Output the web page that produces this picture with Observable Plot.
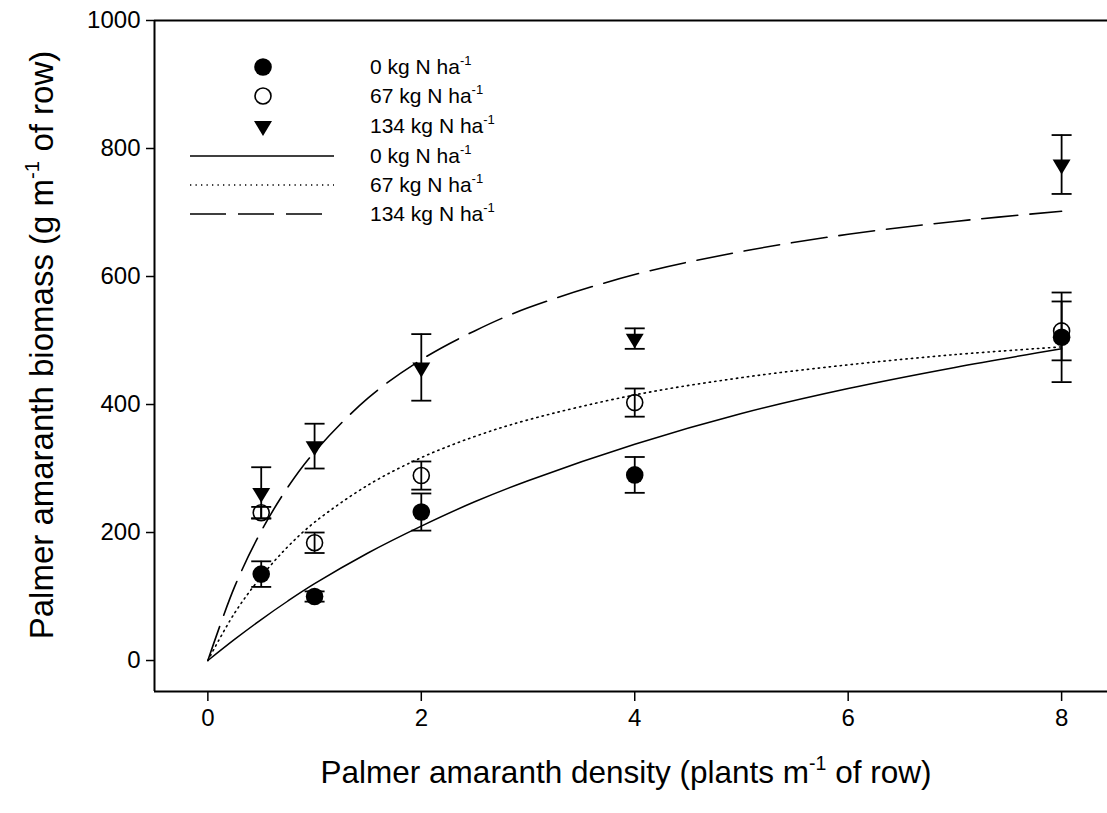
<!DOCTYPE html>
<html>
<head>
<meta charset="utf-8">
<script src="https://cdn.jsdelivr.net/npm/d3@7"></script>
<script src="https://cdn.jsdelivr.net/npm/@observablehq/plot@0.6"></script>
<style>
  html, body { margin: 0; padding: 0; background: #fff; }
  #chart { position: relative; width: 1107px; height: 813px; }
  svg { font-family: Arial, "Liberation Sans", sans-serif; }
</style>
</head>
<body>
<div id="chart"></div>
<script>
// ---- Data ----
const densities = [0.5, 1, 2, 4, 8];
const seriesNames = ["0 kg N ha", "67 kg N ha", "134 kg N ha"];

// observed means and standard errors
const mean0 = [135, 100, 232, 290, 505];
const err0  = [20, 8, 29, 28, 70];
const mean67 = [231, 184, 289, 403, 515];
const err67  = [9, 16, 22, 22, 46];
const mean134 = [262, 335, 458, 503, 775];
const err134  = [40, 35, 52, 16, 46];

// fitted curves
const curveX = [0, 0.25, 0.5, 0.75, 1, 1.5, 2, 2.5, 3, 4, 5, 6, 7, 8];
const curve0   = [0, 33, 64, 93, 120, 168, 210, 248, 281, 338, 386, 425, 458, 487];
const curve67  = [0, 74, 131, 178, 216, 274, 317, 350, 376, 415, 442, 462, 478, 490];
const curve134 = [0, 115, 202, 271, 326, 410, 470, 515, 551, 603, 639, 666, 686, 702];

const yTicks = [0, 200, 400, 600, 800, 1000];
const xTicks = [0, 2, 4, 6, 8];
const xDomain = [-0.5, 8.43];
const yDomain = [-48.4, 1000];

// ---- Build tables ----
const obs = (means, errs, s) => densities.map((x, i) => ({x, y: means[i], lo: means[i] - errs[i], hi: means[i] + errs[i], s}));
const obs0 = obs(mean0, err0, 0), obs67 = obs(mean67, err67, 1), obs134 = obs(mean134, err134, 2);
const allObs = [...obs0, ...obs67, ...obs134];
const line = (vals) => curveX.map((x, i) => ({x, y: vals[i]}));

// custom symbols
const capSymbol = { draw(ctx, size) { const r = Math.sqrt(size / Math.PI); ctx.moveTo(-r, 0); ctx.lineTo(r, 0); } };
const triDown = { draw(ctx, size) { const r = Math.sqrt(size / Math.PI); ctx.moveTo(-r * 1.12, -r * 0.62); ctx.lineTo(r * 1.12, -r * 0.62); ctx.lineTo(0, r * 1.25); ctx.closePath(); } };

const plot = Plot.plot({
  width: 1107, height: 813,
  marginLeft: 154, marginRight: 0, marginTop: 20, marginBottom: 122,
  style: { fontFamily: "Arial, 'Liberation Sans', sans-serif", fontSize: "24px", background: "white", overflow: "visible" },
  x: { domain: xDomain },
  y: { domain: yDomain },
  marks: [
    Plot.axisY({ticks: yTicks, tickFormat: d => String(d), tickSize: 8, tickPadding: 6, fontSize: 24, label: null, stroke: "black", strokeWidth: 1.5, color: "black"}),
    Plot.axisX({ticks: xTicks, tickFormat: d => String(d), tickSize: 10, tickPadding: 7, fontSize: 24, label: null, stroke: "black", strokeWidth: 1.5, color: "black"}),
    Plot.ruleX([xDomain[0]], {stroke: "black", strokeWidth: 2}),
    Plot.ruleY([yDomain[0], yDomain[1]], {stroke: "black", strokeWidth: 2}),
    Plot.line(line(curve0), {x: "x", y: "y", curve: "catmull-rom", stroke: "black", strokeWidth: 1.5}),
    Plot.line(line(curve67), {x: "x", y: "y", curve: "catmull-rom", stroke: "black", strokeWidth: 1.6, strokeDasharray: "1.3,4.2"}),
    Plot.line(line(curve134), {x: "x", y: "y", curve: "catmull-rom", stroke: "black", strokeWidth: 1.6, strokeDasharray: "36,12"}),
    Plot.ruleX(allObs, {x: "x", y1: "lo", y2: "hi", stroke: "black", strokeWidth: 1.8}),
    Plot.dot(allObs, {x: "x", y: "lo", symbol: capSymbol, r: 10, stroke: "black", strokeWidth: 1.8}),
    Plot.dot(allObs, {x: "x", y: "hi", symbol: capSymbol, r: 10, stroke: "black", strokeWidth: 1.8}),
    Plot.dot(obs67, {x: "x", y: "y", r: 8, fill: "none", stroke: "black", strokeWidth: 1.6}),
    Plot.dot(obs0, {x: "x", y: "y", r: 8.8, fill: "black", stroke: "none"}),
    Plot.dot(obs134, {x: "x", y: "y", symbol: triDown, r: 8, fill: "black", stroke: "none"})
  ]
});

const svg = d3.select(plot);
const font = "Arial, 'Liberation Sans', sans-serif";

// axis titles with superscripts
function supText(g, before, sup, after, size) {
  const t = g.append("text").attr("font-family", font).attr("font-size", size).attr("fill", "black").attr("text-anchor", "middle");
  t.append("tspan").text(before);
  t.append("tspan").attr("font-size", size * 0.62).attr("dy", -size * 0.42).text(sup);
  t.append("tspan").attr("dy", size * 0.42).text(after);
  return t;
}
supText(svg.append("g"), "Palmer amaranth density (plants m", "-1", " of row)", 31.5)
  .attr("x", 626).attr("y", 783);
supText(svg.append("g").attr("transform", "translate(53,345) rotate(-90)"), "Palmer amaranth biomass (g m", "-1", " of row)", 33)
  .attr("x", 0).attr("y", 0);

// legend
const lg = svg.append("g");
const rows = [67, 96, 126, 156, 185, 214];
const sx = 263;
lg.append("circle").attr("cx", sx).attr("cy", rows[0]).attr("r", 8.8).attr("fill", "black");
lg.append("circle").attr("cx", sx).attr("cy", rows[1]).attr("r", 8).attr("fill", "none").attr("stroke", "black").attr("stroke-width", 1.6);
lg.append("path").attr("d", `M${sx - 9},${rows[2] - 5}L${sx + 9},${rows[2] - 5}L${sx},${rows[2] + 10}Z`).attr("fill", "black");
lg.append("line").attr("x1", 190).attr("x2", 334).attr("y1", rows[3]).attr("y2", rows[3]).attr("stroke", "black").attr("stroke-width", 1.5);
lg.append("line").attr("x1", 190).attr("x2", 334).attr("y1", rows[4]).attr("y2", rows[4]).attr("stroke", "black").attr("stroke-width", 1.6).attr("stroke-dasharray", "1.3,4.2");
lg.append("line").attr("x1", 190).attr("x2", 334).attr("y1", rows[5]).attr("y2", rows[5]).attr("stroke", "black").attr("stroke-width", 1.6).attr("stroke-dasharray", "36,12");
const labels = [...seriesNames, ...seriesNames];
labels.forEach((s, i) => {
  const t = lg.append("text").attr("x", 370).attr("y", rows[i] + 7).attr("font-family", font).attr("font-size", 21).attr("fill", "black").attr("text-anchor", "start");
  t.append("tspan").text(s);
  t.append("tspan").attr("font-size", 13).attr("dy", -9).text("-1");
});

document.getElementById("chart").appendChild(plot);
</script>
</body>
</html>
